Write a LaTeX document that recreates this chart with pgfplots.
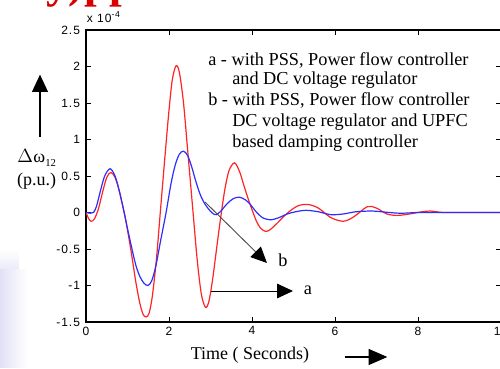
\documentclass[border=0pt]{standalone}
\usepackage{fontspec}
\setmainfont{Liberation Serif}
\setsansfont{Liberation Sans}
\newfontfamily\tickfont[LetterSpace=8]{Liberation Sans}
\usepackage{pgfplots}
\pgfplotsset{compat=1.18}
\usetikzlibrary{arrows.meta,fadings}
\definecolor{curveA}{RGB}{255,35,35}
\definecolor{curveB}{RGB}{45,45,255}

% speed deviation, case a (PSS + power flow controller + DC voltage regulator)
\pgfplotstableread{
t     dw
0.00  0.00
0.06 -0.08
0.12 -0.12
0.20 -0.09
0.30  0.05
0.40  0.28
0.50  0.48
0.60  0.55
0.70  0.48
0.80  0.30
0.92  0.00
1.00 -0.24
1.10 -0.58
1.20 -0.95
1.30 -1.25
1.38 -1.40
1.45 -1.43
1.52 -1.38
1.60 -1.14
1.70 -0.62
1.79  0.00
1.90  0.75
2.00  1.40
2.08  1.82
2.17  2.01
2.25  1.92
2.35  1.50
2.45  0.85
2.58  0.00
2.68 -0.65
2.78 -1.12
2.88 -1.30
2.96 -1.22
3.05 -0.92
3.15 -0.48
3.25 -0.05
3.35  0.33
3.45  0.58
3.58  0.68
3.70  0.56
3.80  0.38
3.90  0.20
4.00  0.04
4.10 -0.11
4.20 -0.21
4.33 -0.26
4.45 -0.23
4.60 -0.15
4.85 -0.01
5.10  0.09
5.35  0.11
5.60  0.06
5.90 -0.07
6.20 -0.12
6.45 -0.06
6.78  0.08
7.00  0.06
7.25 -0.02
7.50 -0.04
7.80 -0.02
8.10  0.01
8.30  0.02
8.60  0.00
9.00  0.00
9.50  0.00
10.0  0.00
}\caseA

% case b (with the UPFC based damping controller added)
\pgfplotstableread{
t     dw
0.00  0.00
0.10 -0.01
0.18  0.00
0.25  0.08
0.35  0.30
0.45  0.50
0.58  0.60
0.70  0.50
0.80  0.30
0.92  0.00
1.00 -0.22
1.10 -0.48
1.20 -0.72
1.30 -0.88
1.40 -0.97
1.49 -1.00
1.58 -0.94
1.68 -0.74
1.80 -0.38
1.93  0.00
2.05  0.40
2.15  0.65
2.25  0.80
2.35  0.84
2.45  0.78
2.55  0.62
2.65  0.42
2.75  0.25
2.85  0.13
2.95  0.05
3.05 -0.01
3.14 -0.03
3.25  0.02
3.40  0.12
3.55  0.19
3.70  0.21
3.85  0.17
3.96  0.11
4.10  0.01
4.25 -0.07
4.45 -0.10
4.65 -0.07
4.85 -0.02
5.05  0.01
5.30  0.03
5.60  0.01
5.90 -0.03
6.20 -0.02
6.50  0.01
6.90  0.02
7.30  0.00
7.60 -0.01
8.00  0.00
8.50  0.00
9.00  0.00
10.0  0.00
}\caseB

\begin{document}
\begin{tikzpicture}
% page frame
\path[use as bounding box] (-64.5pt,-34.5pt) rectangle (310.5pt,241.5pt);
% soft slide background at the lower left
\fill[gray!45!blue!15, path fading=east] (-64.5pt,-34.5pt) rectangle (-44pt,40pt);
\fill[gray!45!blue!10, path fading=north] (-64.5pt,40pt) rectangle (-50pt,55pt);
% slide title remnant
\node[anchor=base west, text=red!85!black, inner sep=0,
      font=\bfseries\fontsize{34}{34}\selectfont] at (-30pt,243pt) {y)pp};

\begin{axis}[
  at={(0,0)}, anchor=south west,
  width=311.25pt, height=219pt, scale only axis,
  xmin=0, xmax=10, ymin=-1.5, ymax=2.5,
  xtick={0,2,...,10}, ytick={-1.5,-1,...,2.5},
  tick align=inside, major tick length=4pt,
  axis line style={line width=1.4pt},
  every tick/.style={black, line width=0.7pt},
  /pgf/number format/assume math mode=true,
  ticklabel style={font=\tickfont\fontsize{9}{11}\selectfont},
  yticklabel style={xshift=-1pt},
]
\addplot[curveA, line width=0.9pt, smooth] table[x=t, y=dw] {\caseA};
\addplot[curveB, line width=0.9pt, smooth] table[x=t, y=dw] {\caseB};
\end{axis}

% scale factor of the vertical axis
\node[anchor=west, inner sep=0, font=\tickfont\fontsize{9}{10}\selectfont]
  at (0.5pt,228.5pt) {x 10\raisebox{0.8ex}{\fontsize{6.5}{7}\selectfont -4}};

% axis labels with their arrows
\node[font=\fontsize{13.5}{15}\selectfont, inner sep=0] at (-37pt,123pt)
  {$\Delta$\kern0.3pt ω\raisebox{-0.5ex}{\fontsize{8}{9}\selectfont 12}};
\node[font=\fontsize{13.5}{15}\selectfont, inner sep=0] at (-37pt,105.5pt) {(p.u.)};
\draw[line width=0.8pt, -{Triangle[length=13pt, width=12pt]}]
  (-34.5pt,138.75pt) -- (-34.5pt,185.5pt);

\node[font=\fontsize{13.5}{15}\selectfont, inner sep=0] at (123pt,-25pt) {Time ( Seconds)};
\draw[line width=0.8pt, -{Triangle[length=14pt, width=12pt]}]
  (194pt,-26.25pt) -- (226pt,-26.25pt);

% description of the two cases
\begin{scope}[every node/.style={anchor=west, inner sep=0,
                                 font=\fontsize{13.7}{15}\selectfont}]
\node at (91.5pt,196.5pt)  {a - with PSS, Power flow controller};
\node at (109.5pt,181.5pt) {and DC voltage regulator};
\node at (91.5pt,166.5pt)  {b - with PSS, Power flow controller};
\node at (109.5pt,150pt)   {DC voltage regulator and UPFC};
\node at (109.5pt,134.25pt){based damping controller};
\end{scope}

% pointers to the curves
\draw[line width=0.7pt, -{Triangle[length=12pt, width=11pt]}]
  (93.75pt,23.25pt) -- (155.25pt,23.25pt);
\node[font=\fontsize{13.7}{15}\selectfont, inner sep=0] at (166.5pt,23.5pt) {a};
\draw[gray!60!black, line width=0.7pt, -{Triangle[length=12pt, width=11pt, black]}]
  (89.25pt,90pt) -- (135.75pt,44.25pt);
\node[font=\fontsize{13.7}{15}\selectfont, inner sep=0] at (147.75pt,46.5pt) {b};
\end{tikzpicture}
\end{document}
